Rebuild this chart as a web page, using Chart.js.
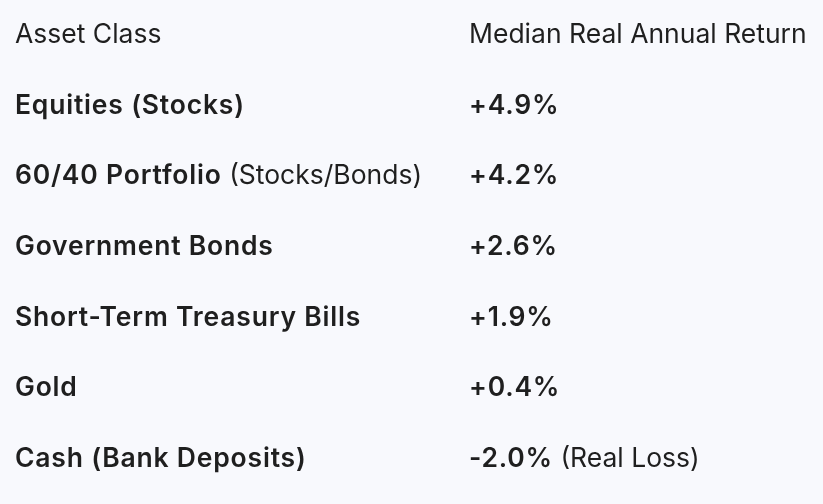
<!DOCTYPE html>
<html><head><meta charset="utf-8">
<script src="https://cdn.jsdelivr.net/npm/chart.js@4.4.1/dist/chart.umd.min.js"></script>
<style>html,body{margin:0;padding:0;background:#f8f9fd;}#w{width:823px;height:504px;}</style>
</head><body><div id="w"><canvas id="c"></canvas></div>
<script>
const headers = ["Asset Class", "Median Real Annual Return"];
const assets = ["Equities (Stocks)", "60/40 Portfolio", "Government Bonds", "Short-Term Treasury Bills", "Gold", "Cash (Bank Deposits)"];
const assetNotes = ["", " (Stocks/Bonds)", "", "", "", ""];
const returns = [4.9, 4.2, 2.6, 1.9, 0.4, -2.0];
const returnNotes = ["", "", "", "", "", " (Real Loss)"];
const rowLabels = ["header"].concat(assets);

const FONT = "Inter, Roboto, sans-serif";
const SIZE = 26.5;
function setFont(ctx, bold) {
  ctx.font = `${bold ? 600 : 400} ${SIZE}px ${FONT}`;
  ctx.letterSpacing = bold ? '0.8px' : '0px';
}
const tablePlugin = {
  id: 'table',
  afterDraw(chart) {
    const ctx = chart.ctx, y = chart.scales.y;
    const x1 = 15, x2 = 469;
    ctx.save();
    ctx.fillStyle = '#1f1f1f';
    ctx.textBaseline = 'middle';
    ctx.textAlign = 'left';
    const py0 = y.getPixelForValue(0);
    setFont(ctx, false);
    ctx.fillText(headers[0], x1, py0);
    ctx.fillText(headers[1], x2, py0);
    assets.forEach((a, i) => {
      const py = y.getPixelForValue(i + 1);
      setFont(ctx, true);
      ctx.fillText(a, x1, py);
      let w = ctx.measureText(a).width;
      if (assetNotes[i]) { setFont(ctx, false); ctx.fillText(assetNotes[i], x1 + w, py); }
      const r = returns[i];
      const rt = (r > 0 ? '+' : '') + r.toFixed(1) + '%';
      setFont(ctx, true);
      ctx.fillText(rt, x2, py);
      w = ctx.measureText(rt).width;
      if (returnNotes[i]) { setFont(ctx, false); ctx.fillText(returnNotes[i], x2 + w, py); }
    });
    ctx.restore();
  }
};
new Chart(document.getElementById('c'), {
  type: 'bar',
  data: { labels: rowLabels, datasets: [{ data: rowLabels.map(() => null) }] },
  options: {
    indexAxis: 'y', responsive: true, maintainAspectRatio: false, animation: false,
    layout: { padding: { top: 0, bottom: 10, left: 0, right: 0 } },
    plugins: { legend: { display: false }, tooltip: { enabled: false } },
    scales: {
      y: { type: 'category', display: false, offset: true },
      x: { display: false, min: 0, max: 1 }
    }
  },
  plugins: [tablePlugin]
});
</script></body></html>
